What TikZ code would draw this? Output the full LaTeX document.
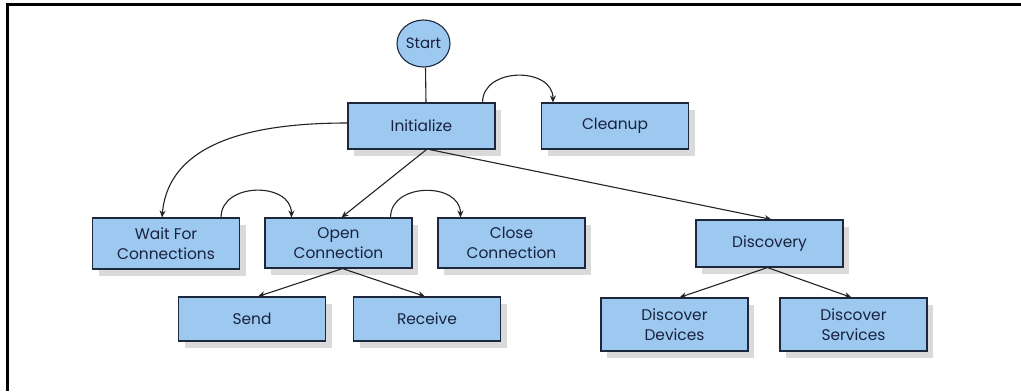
\documentclass[tikz,border=0pt]{standalone}
\usepackage{fontspec}
\setmainfont{Poppins}
\usetikzlibrary{arrows.meta,shadows,shapes.geometric}
\definecolor{boxfill}{RGB}{157,201,241}
\definecolor{boxline}{RGB}{30,40,60}
\definecolor{txt}{RGB}{24,34,62}
\definecolor{wire}{RGB}{35,35,40}
\tikzset{
  state/.style={draw=boxline, line width=1.1pt, fill=boxfill, rectangle,
    minimum width=147bp, inner sep=0pt, align=center, text=txt,
    font=\fontsize{15.5}{20}\selectfont,
    drop shadow={shadow xshift=6bp, shadow yshift=-7bp, fill=black!18, opacity=0.8}},
  startnode/.style={draw=boxline, line width=1.1pt, fill=boxfill, ellipse,
    minimum width=53bp, minimum height=47bp, inner sep=0pt, text=txt,
    font=\fontsize{15}{19}\selectfont},
  link/.style={draw=wire, line width=1.1pt, -{Stealth[length=7bp,width=6bp]}},
  plainlink/.style={draw=wire, line width=1.1pt}
}
\begin{document}
\begin{tikzpicture}[x=1bp,y=-1bp]
  \useasboundingbox (0,0) rectangle (1021,391);
  \fill[white] (0,0) rectangle (1021,391);
  % frame lines along the top and left edges
  \draw[line width=3bp, black] (7,391) -- (7,4) -- (1021,4);

  % states
  \node[startnode] (start) at (423.5,43.5) {Start};
  \node[state, minimum height=46bp] (init)  at (421.5,126) {Initialize};
  \node[state, minimum height=46bp] (clean) at (615,126) {Cleanup};
  \node[state, minimum height=51bp] (wait)  at (166,243.5) {Wait For\\Connections};
  \node[state, minimum height=50bp] (open)  at (338.5,243) {Open\\Connection};
  \node[state, minimum height=50bp] (close) at (511.5,243) {Close\\Connection};
  \node[state, minimum height=47bp] (disc)  at (769.5,243.5) {Discovery};
  \node[state, minimum height=44bp] (send)  at (252,319) {Send};
  \node[state, minimum height=44bp] (recv)  at (427,319) {Receive};
  \node[state, minimum height=53bp] (dev)   at (674.5,324.5) {Discover\\Devices};
  \node[state, minimum height=53bp] (serv)  at (853.5,324.5) {Discover\\Services};

  % transitions
  \draw[plainlink] ([xshift=2bp]start.south) -- ([xshift=4.5bp]init.north);
  \draw[link] ([xshift=-13bp]init.north east) to[out=90,in=90,looseness=1.3] ([xshift=12bp]clean.north west);
  \draw[link] ([yshift=3bp]init.west) to[out=180,in=85] ([xshift=-4bp]wait.north);
  \draw[link] ([xshift=5bp]init.south) -- ([xshift=3bp]open.north);
  \draw[link] ([xshift=8bp]init.south) -- ([xshift=2bp]disc.north);
  \draw[link] ([xshift=-19bp]wait.north east) to[out=90,in=90,looseness=1.3] ([xshift=27bp]open.north west);
  \draw[link] ([xshift=-22bp]open.north east) to[out=90,in=90,looseness=1.3] ([xshift=23bp]close.north west);
  \draw[link] ([xshift=4bp]open.south) -- ([xshift=6bp]send.north);
  \draw[link] ([xshift=4bp]open.south) -- ([xshift=-2bp]recv.north);
  \draw[link] ([xshift=-2bp]disc.south) -- ([xshift=5bp]dev.north);
  \draw[link] ([xshift=-2bp]disc.south) -- ([xshift=-2bp]serv.north);
\end{tikzpicture}
\end{document}
